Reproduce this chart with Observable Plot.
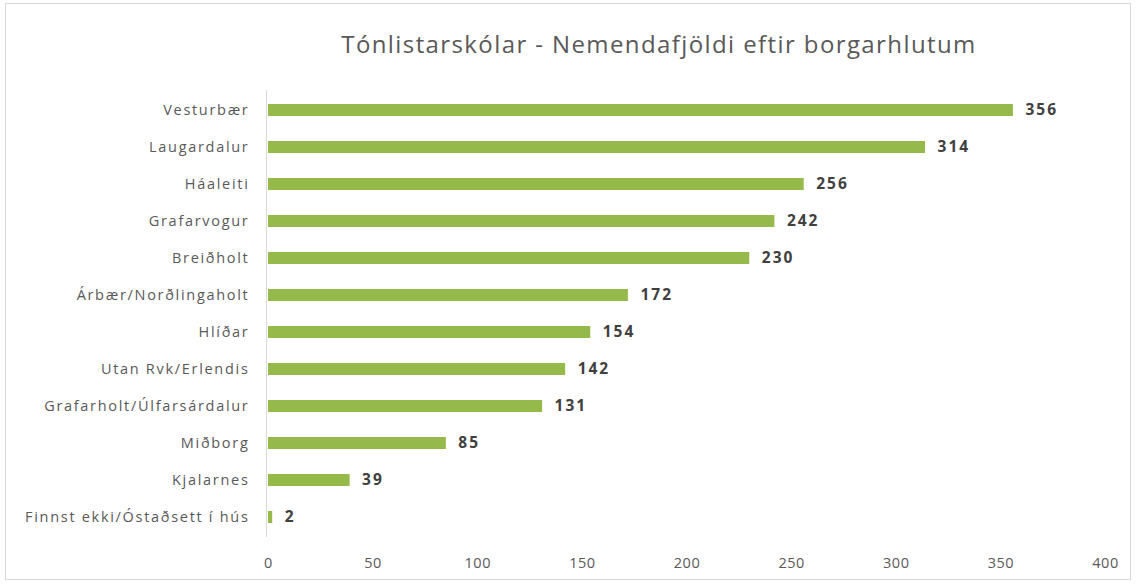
<!DOCTYPE html>
<html>
<head>
<meta charset="utf-8">
<script src="https://cdn.jsdelivr.net/npm/d3@7"></script>
<script src="https://cdn.jsdelivr.net/npm/@observablehq/plot@0.6"></script>
<style>
  body { margin: 0; background: #fff; }
  #frame { position: absolute; left: 5px; top: 3px; width: 1126px; height: 577px; border: 1px solid #d9d9d9; box-sizing: border-box; }
  #title { position: absolute; left: 0; width: 1318px; top: 27px; text-align: center; font-family: "Open Sans", sans-serif; font-size: 24px; letter-spacing: 1.4px; color: #595959; }
  #chart { position: absolute; left: 0; top: 0; }
  #chart svg g[aria-label="y-axis tick label"] text { letter-spacing: 1.7px; }
  #chart svg g[aria-label="x-axis tick label"] text { letter-spacing: 0.5px; }
  #chart svg g[aria-label="text"] text { letter-spacing: 2px; }
</style>
</head>
<body>
<div id="frame"></div>
<div id="title">Tónlistarskólar - Nemendafjöldi eftir borgarhlutum</div>
<div id="chart"></div>
<script>
const categories = [
  "Vesturbær", "Laugardalur", "Háaleiti", "Grafarvogur", "Breiðholt",
  "Árbær/Norðlingaholt", "Hlíðar", "Utan Rvk/Erlendis",
  "Grafarholt/Úlfarsárdalur", "Miðborg", "Kjalarnes", "Finnst ekki/Óstaðsett í hús"
];
const values = [356, 314, 256, 242, 230, 172, 154, 142, 131, 85, 39, 2];
const xTicks = [0, 50, 100, 150, 200, 250, 300, 350, 400];

const data = categories.map((c, i) => ({ category: c, value: values[i] }));

const chart = Plot.plot({
  width: 1137,
  height: 585,
  marginLeft: 268,
  marginRight: 32,
  marginTop: 90,
  marginBottom: 48,
  style: { fontFamily: "'Open Sans', sans-serif", fontSize: "14.5px", color: "#595959", background: "transparent" },
  x: { domain: [0, 400], ticks: xTicks, label: null, tickSize: 0, tickPadding: 20 },
  y: { domain: categories, label: null, tickSize: 0, tickPadding: 19, paddingInner: 0.68, paddingOuter: 0.34 },
  marks: [
    Plot.ruleX([0], { stroke: "#d9d9d9", dx: -2, strokeWidth: 1 }),
    Plot.barX(data, { x: "value", y: "category", fill: "#95b94b" }),
    Plot.text(data, { x: "value", y: "category", text: d => String(d.value), dx: 12, textAnchor: "start", fontWeight: "bold", fill: "#404040", fontSize: 15.5 })
  ]
});
document.getElementById("chart").appendChild(chart);
</script>
</body>
</html>
